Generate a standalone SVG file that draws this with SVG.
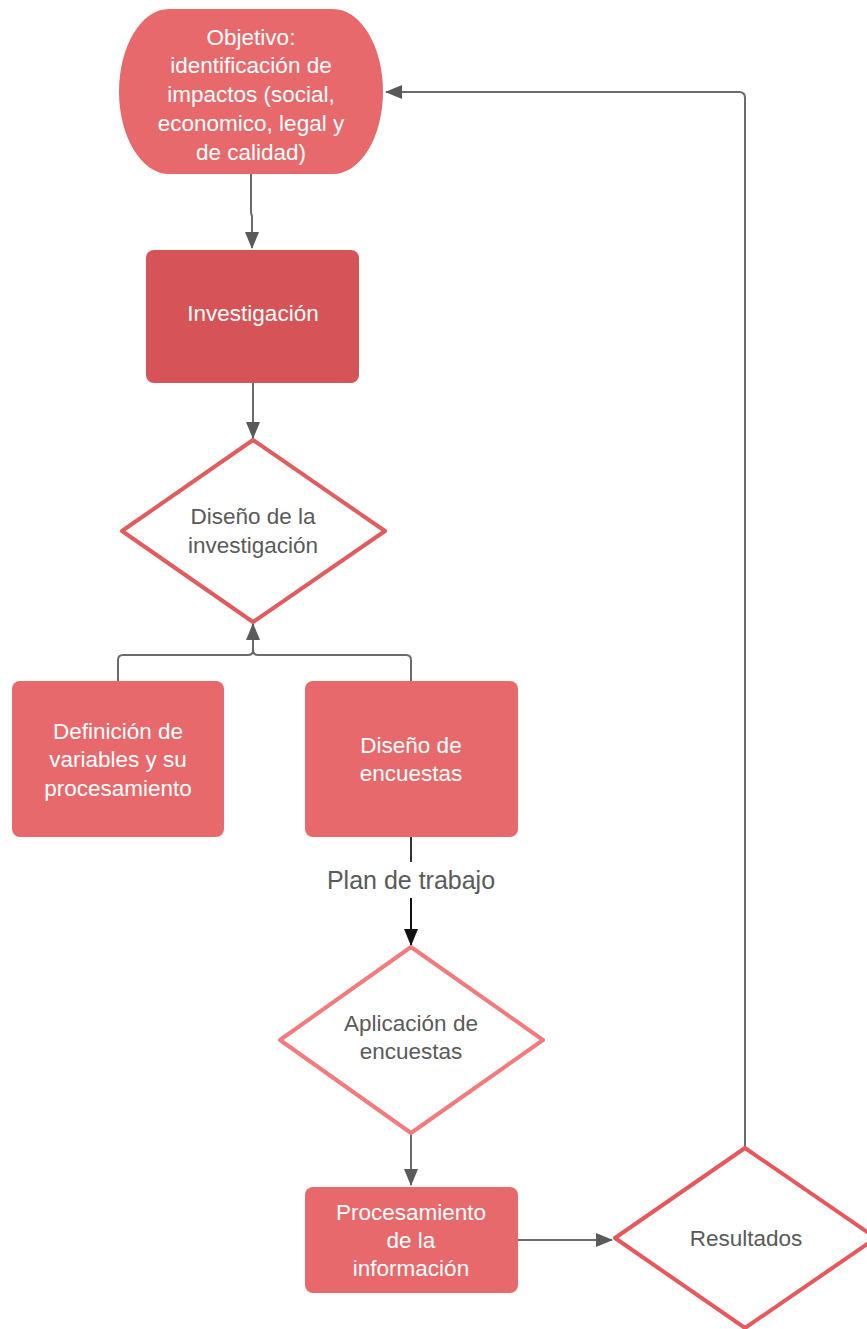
<svg xmlns="http://www.w3.org/2000/svg" width="867" height="1329" viewBox="0 0 867 1329">
<defs>
<style>
.box{fill:#e8696b;}
.dark{fill:#d65457;}
.wt{fill:#ffffff;font-family:"Liberation Sans",Arial,sans-serif;font-size:22.5px;text-anchor:middle;}
.gt{fill:#5a5a5a;font-family:"Liberation Sans",Arial,sans-serif;font-size:22.5px;text-anchor:middle;}
.dia{fill:#ffffff;stroke:#e05c5e;stroke-width:4;stroke-linejoin:round;}
.con{fill:none;stroke:#6b6b6b;stroke-width:2;}
</style>
<marker id="ah" viewBox="0 0 17 14" refX="16" refY="7" markerWidth="17" markerHeight="14" markerUnits="userSpaceOnUse" orient="auto">
<path d="M0,0 L17,7 L0,14 Z" fill="#5a5a5a"/>
</marker>
<marker id="ahk" viewBox="0 0 17 14" refX="16" refY="7" markerWidth="17" markerHeight="14" markerUnits="userSpaceOnUse" orient="auto">
<path d="M0,0 L17,7 L0,14 Z" fill="#111111"/>
</marker>
</defs>
<rect width="867" height="1329" fill="#ffffff"/>
<g id="connectors">
<path class="con" d="M251,174 L251,212 Q251,214 252,216 L252,248" marker-end="url(#ah)"/>
<path class="con" d="M253,383 L253,438" marker-end="url(#ah)"/>
<path class="con" d="M118,681 L118,660 Q118,655 123,655 L248,655 Q253,655 253,650 L253,624" marker-end="url(#ah)"/>
<path class="con" d="M411,681 L411,660 Q411,655 406,655 L258,655 Q253,655 253,650"/>
<path fill="none" stroke="#333" stroke-width="2" d="M411,837 L411,862"/>
<path fill="none" stroke="#111" stroke-width="2" d="M411,898 L411,945" marker-end="url(#ahk)"/>
<text class="gt" x="411" y="889" style="font-size:25px">Plan de trabajo</text>
<path class="con" d="M411,1133 L411,1185" marker-end="url(#ah)"/>
<path class="con" d="M518,1240 L612,1240" marker-end="url(#ah)"/>
<path class="con" d="M745,1148 L745,98 Q745,92 739,92 L386,92" marker-end="url(#ah)"/>
</g>
<g id="objetivo">
<path class="box" d="M169,9 L333,9 A50,82.5 0 0 1 383,91.5 A50,82.5 0 0 1 333,174 L169,174 A50,82.5 0 0 1 119,91.5 A50,82.5 0 0 1 169,9 Z"/>
<text class="wt" x="251" y="45">Objetivo:</text>
<text class="wt" x="251" y="73">identificación de</text>
<text class="wt" x="251" y="102">impactos (social,</text>
<text class="wt" x="251" y="131">economico, legal y</text>
<text class="wt" x="251" y="160">de calidad)</text>
</g>
<g id="investigacion">
<rect class="dark" x="146" y="250" width="213" height="133" rx="8"/>
<text class="wt" x="253" y="321">Investigación</text>
</g>
<g id="diseno-investigacion">
<polygon class="dia" points="253,440 385,531 253,622 122,531"/>
<text class="gt" x="253" y="524">Diseño de la</text>
<text class="gt" x="253" y="553">investigación</text>
</g>
<g id="definicion">
<rect class="box" x="12" y="681" width="212" height="156" rx="8"/>
<text class="wt" x="118" y="739">Definición de</text>
<text class="wt" x="118" y="767">variables y su</text>
<text class="wt" x="118" y="796">procesamiento</text>
</g>
<g id="diseno-encuestas">
<rect class="box" x="305" y="681" width="213" height="156" rx="8"/>
<text class="wt" x="411" y="753">Diseño de</text>
<text class="wt" x="411" y="781">encuestas</text>
</g>
<g id="aplicacion">
<polygon class="dia" style="stroke:#f47b7d" points="411,947 543,1040 411,1133 280,1040"/>
<text class="gt" x="411" y="1031">Aplicación de</text>
<text class="gt" x="411" y="1059">encuestas</text>
</g>
<g id="procesamiento">
<rect class="box" x="305" y="1187" width="213" height="106" rx="8"/>
<text class="wt" x="411" y="1220">Procesamiento</text>
<text class="wt" x="411" y="1248">de la</text>
<text class="wt" x="411" y="1276">información</text>
</g>
<g id="resultados">
<polygon class="dia" style="stroke:#e6585b" points="745,1148 876,1238 745,1328 615,1238"/>
<text class="gt" x="746" y="1246">Resultados</text>
</g>
</svg>
